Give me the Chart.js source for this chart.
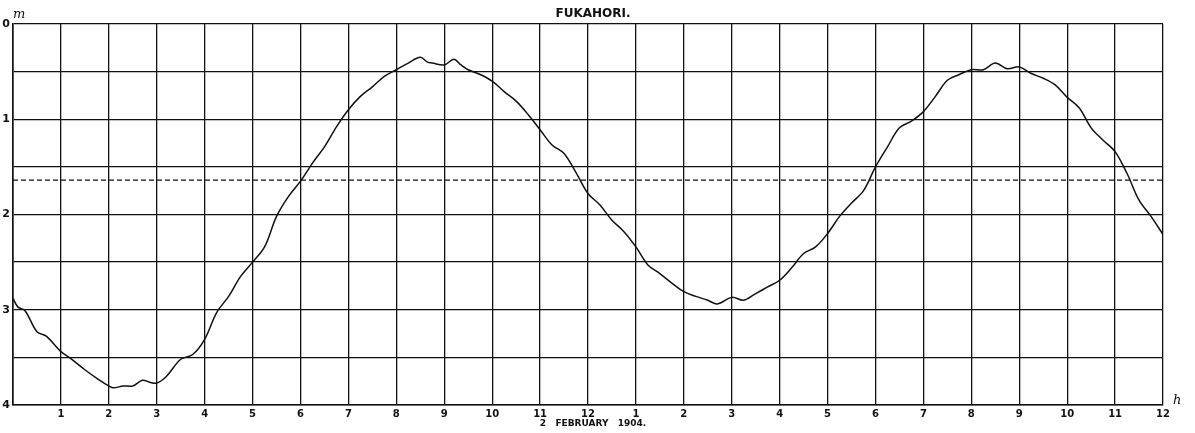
<!DOCTYPE html>
<html>
<head>
<meta charset="utf-8">
<script src="https://cdn.jsdelivr.net/npm/chart.js@4/dist/chart.umd.min.js"></script>
<style>
  html, body { margin: 0; padding: 0; background: #fff; }
  #wrap { width: 1195px; height: 433px; }
</style>
</head>
<body>
<div id="wrap"><canvas id="tide"></canvas></div>
<script>
// hours after midnight, 2 Feb 1904
const hours = [0,0.1,0.25,0.5,0.7,1,1.2,1.5,1.75,2,2.1,2.3,2.5,2.7,2.85,3,3.2,3.5,3.75,4,4.25,4.5,4.75,5,5.25,5.5,5.75,6,6.25,6.5,6.75,7,7.25,7.5,7.75,8,8.25,8.5,8.65,8.75,9,9.2,9.35,9.5,9.75,10,10.25,10.5,10.75,11,11.25,11.5,11.75,12,12.25,12.5,12.75,13,13.25,13.5,13.75,14,14.25,14.5,14.7,15,15.25,15.5,15.75,16,16.25,16.5,16.75,17,17.25,17.5,17.75,18,18.25,18.5,18.75,19,19.25,19.5,19.75,20,20.25,20.5,20.75,21,21.25,21.5,21.75,22,22.25,22.5,22.75,23,23.25,23.5,23.75,24];
// depth below the zero of the gauge, m
const level = [2.88,2.97,3.01,3.23,3.28,3.44,3.51,3.63,3.72,3.80,3.82,3.80,3.80,3.74,3.76,3.77,3.70,3.52,3.47,3.31,3.03,2.86,2.65,2.50,2.34,2.02,1.81,1.65,1.46,1.29,1.08,0.90,0.76,0.66,0.55,0.48,0.41,0.35,0.40,0.41,0.43,0.37,0.43,0.48,0.53,0.60,0.71,0.81,0.95,1.11,1.27,1.36,1.56,1.78,1.90,2.06,2.18,2.34,2.53,2.62,2.72,2.81,2.86,2.90,2.94,2.87,2.90,2.83,2.76,2.69,2.56,2.41,2.34,2.20,2.02,1.88,1.75,1.50,1.29,1.09,1.02,0.92,0.76,0.59,0.53,0.48,0.48,0.41,0.47,0.45,0.52,0.57,0.64,0.77,0.88,1.09,1.22,1.34,1.57,1.85,2.02,2.21];
const meanLevel = 1.64;
const yTicks = [0, 1, 2, 3, 4];
const hourLabels = ['', '1','2','3','4','5','6','7','8','9','10','11','12','1','2','3','4','5','6','7','8','9','10','11','12'];

const ink = '#111';

const textPlugin = {
    id: 'textPlugin',
    afterDraw(chart) {
        const c = chart.ctx;
        const a = chart.chartArea;
        const mid = 593;
        c.save();
        c.fillStyle = ink;
        c.textAlign = 'center';
        c.textBaseline = 'middle';
        c.font = 'bold 12px "DejaVu Sans"';
        c.fillText('FUKAHORI.', mid, a.top - 10);
        c.font = 'bold 9px "DejaVu Sans"';
        c.fillText('2   FEBRUARY   1904.', mid, a.bottom + 19);
        c.font = 'italic 13px "DejaVu Serif"';
        c.textAlign = 'left';
        c.fillText('m', a.left, a.top - 9);
        c.fillText('h', a.right + 10, a.bottom - 4);
        c.restore();
    }
};

new Chart(document.getElementById('tide'), {
    type: 'line',
    data: {
        datasets: [{
            data: hours.map((h, i) => ({ x: h, y: level[i] })),
            borderColor: ink,
            borderWidth: 1.5,
            pointRadius: 0,
            tension: 0.35,
            fill: false
        }, {
            data: [{ x: 0, y: meanLevel }, { x: 24, y: meanLevel }],
            borderColor: ink,
            borderWidth: 1.2,
            borderDash: [5, 3],
            pointRadius: 0,
            fill: false
        }]
    },
    options: {
        responsive: true,
        maintainAspectRatio: false,
        animation: false,
        layout: { padding: { top: 24, right: 32, left: 0, bottom: 0 } },
        plugins: { legend: { display: false }, tooltip: { enabled: false } },
        scales: {
            x: {
                type: 'linear',
                min: 0,
                max: 24,
                afterFit: s => { s.height = 28; },
                ticks: {
                    stepSize: 1,
                    autoSkip: false,
                    maxRotation: 0,
                    padding: 3,
                    color: ink,
                    font: { family: 'DejaVu Sans', size: 10, weight: 'bold' },
                    callback: v => hourLabels[v]
                },
                grid: { color: ink, lineWidth: 1.3, drawTicks: false },
                border: { color: ink, width: 1.6 }
            },
            y: {
                reverse: true,
                min: 0,
                max: 4,
                afterFit: s => { s.width = 13; },
                ticks: {
                    stepSize: 0.5,
                    autoSkip: false,
                    padding: 3,
                    color: ink,
                    font: { family: 'DejaVu Sans', size: 11, weight: 'bold' },
                    callback: v => yTicks.includes(v) ? String(v) : ''
                },
                grid: { color: ink, lineWidth: 1.3, drawTicks: false },
                border: { color: ink, width: 1.6 }
            }
        }
    },
    plugins: [textPlugin]
});
</script>
</body>
</html>
